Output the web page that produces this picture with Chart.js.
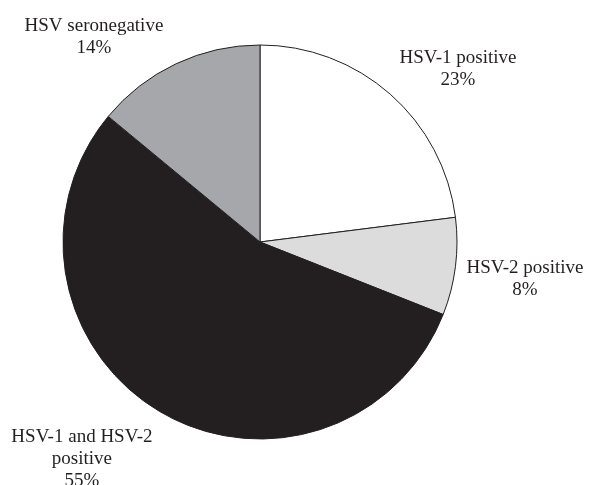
<!DOCTYPE html>
<html>
<head>
<meta charset="utf-8">
<script src="https://cdn.jsdelivr.net/npm/chart.js@4/dist/chart.umd.min.js"></script>
<style>
  html, body { margin: 0; padding: 0; background: #ffffff; }
  #wrap { width: 589px; height: 485px; }
</style>
</head>
<body>
<div id="wrap"><canvas id="c" width="589" height="485"></canvas></div>
<script>
const categories = ["HSV-1 positive", "HSV-2 positive", "HSV-1 and HSV-2 positive", "HSV seronegative"];
const values = [23, 8, 55, 14];
const labelLines = [
  ["HSV-1 positive", "23%"],
  ["HSV-2 positive", "8%"],
  ["HSV-1 and HSV-2", "positive", "55%"],
  ["HSV seronegative", "14%"]
];
const sliceColors = ["#ffffff", "#dcdcdc", "#231f20", "#a6a7aa"];
// label anchor (centre x, first baseline y) relative to pie centre, in units of radius
const labelOffsets = [[1.005, -0.909], [1.345, 0.157], [-0.904, 1.015], [-0.843, -1.071]];

const labelPlugin = {
  id: 'sliceLabels',
  afterDatasetsDraw(chart) {
    const ctx = chart.ctx;
    const meta = chart.getDatasetMeta(0);
    ctx.save();
    ctx.font = '19px "Liberation Serif", "Times New Roman", serif';
    ctx.fillStyle = '#231f20';
    ctx.textAlign = 'center';
    ctx.textBaseline = 'alphabetic';
    const lh = 22;
    meta.data.forEach((arc, i) => {
      const r = arc.outerRadius;
      const cx = arc.x + labelOffsets[i][0] * r;
      const y0 = arc.y + labelOffsets[i][1] * r;
      labelLines[i].forEach((t, k) => ctx.fillText(t, cx, y0 + k * lh));
    });
    ctx.restore();
  }
};

new Chart(document.getElementById('c'), {
  type: 'pie',
  data: {
    labels: categories,
    datasets: [{
      data: values,
      backgroundColor: sliceColors,
      borderColor: '#231f20',
      borderWidth: 1
    }]
  },
  options: {
    responsive: false,
    animation: false,
    radius: 197,
    layout: { padding: { left: 0, right: 69, top: 0, bottom: 1 } },
    plugins: { legend: { display: false }, tooltip: { enabled: false } }
  },
  plugins: [labelPlugin]
});
</script>
</body>
</html>
